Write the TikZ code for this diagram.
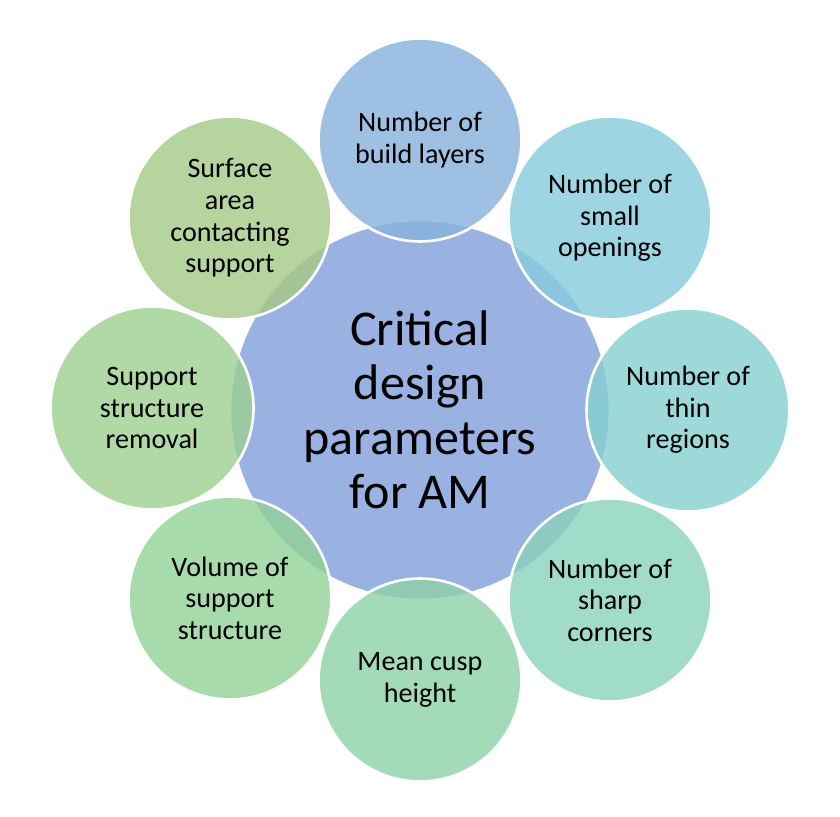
\documentclass[tikz,border=0pt]{standalone}
\usepackage{fontspec}
\setmainfont{Carlito}
\usetikzlibrary{positioning}
\definecolor{hub}{HTML}{88A4DC}
\definecolor{cA}{HTML}{86B2DC}
\definecolor{cB}{HTML}{86CBDC}
\definecolor{cC}{HTML}{86D0D0}
\definecolor{cD}{HTML}{8AD2BC}
\definecolor{cE}{HTML}{8CD2A6}
\definecolor{cF}{HTML}{92D296}
\definecolor{cG}{HTML}{9CCF90}
\definecolor{cH}{HTML}{A4C985}
\tikzset{hub/.style={circle, draw=white, line width=1.5pt, fill=hub, fill opacity=0.85, text opacity=1, minimum size=7.6cm, align=center, font=\fontsize{28.5}{31}\selectfont},
  spoke/.style={circle, draw=white, line width=1.5pt, fill opacity=0.8, text opacity=1, minimum size=4.06cm, align=center, font=\fontsize{16}{18}\selectfont}}
\begin{document}
\begin{tikzpicture}[x=0.02cm,y=-0.02cm]
  \useasboundingbox (0,0) rectangle (840,817);
  \node[hub] (am) at (420,410) {Critical\\design\\parameters\\for AM};
  \node[spoke, fill=cA] (layers) at (420,140) {Number of\\build layers};
  \node[spoke, fill=cB] (openings) at (610,218) {Number of\\small\\openings};
  \node[spoke, fill=cC] (thin) at (688,410) {Number of\\thin\\regions};
  \node[spoke, fill=cD] (corners) at (610,600) {Number of\\sharp\\corners};
  \node[spoke, fill=cE] (cusp) at (420,680) {Mean cusp\\height};
  \node[spoke, fill=cF] (volume) at (230,598) {Volume of\\support\\structure};
  \node[spoke, fill=cG] (removal) at (152,408) {Support\\structure\\removal};
  \node[spoke, fill=cH] (surface) at (230,218) {Surface\\area\\contacting\\support};
\end{tikzpicture}
\end{document}
